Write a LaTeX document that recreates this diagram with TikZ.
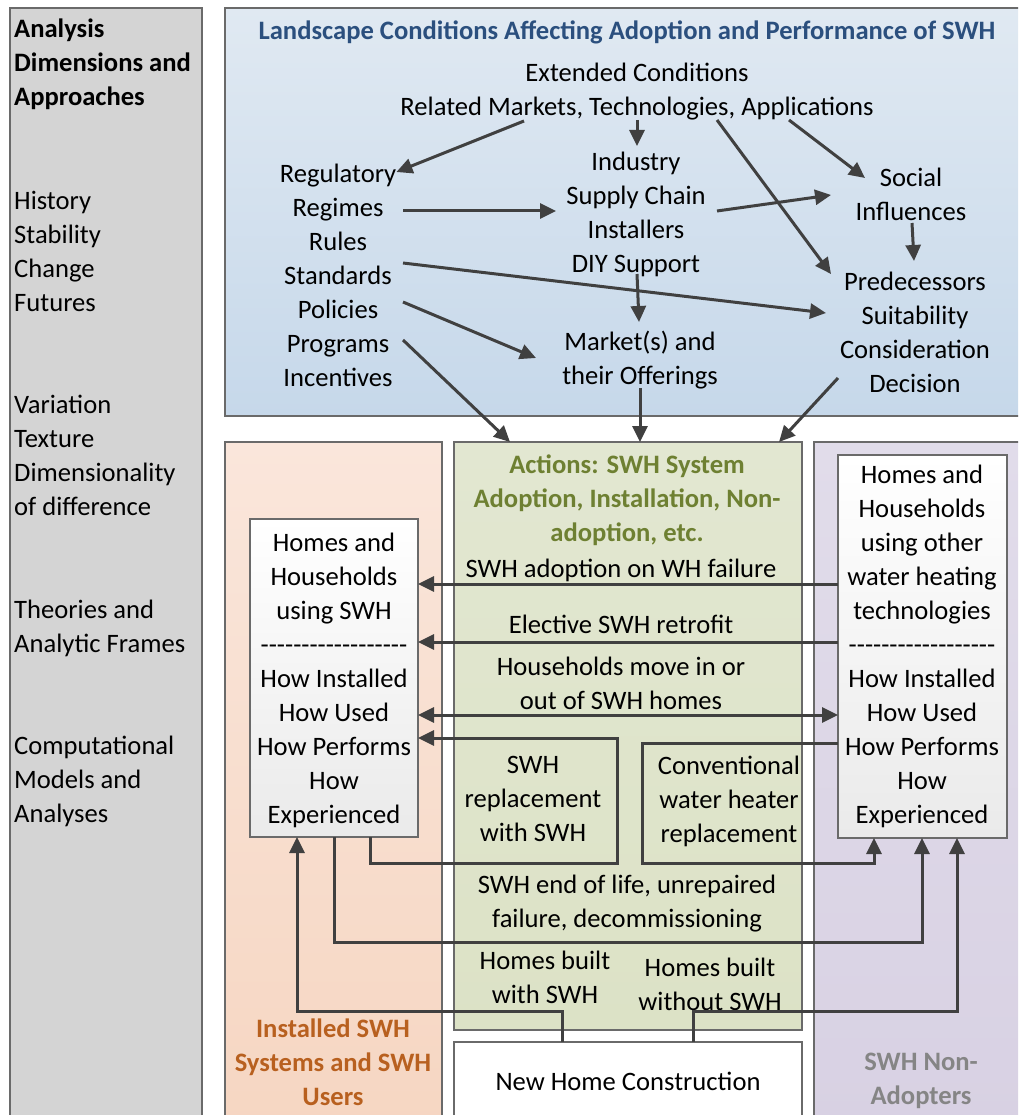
\documentclass[tikz,border=0pt]{standalone}
\usepackage{fontspec}
\setmainfont{Carlito}
\usetikzlibrary{arrows.meta,calc}
\definecolor{graybg}{HTML}{D4D4D4}
\definecolor{bordergray}{HTML}{6A6A6A}
\definecolor{arrowgray}{HTML}{404040}
\definecolor{blueA}{HTML}{E0E9F2}
\definecolor{blueB}{HTML}{C6D8EA}
\definecolor{orA}{HTML}{FAE6DB}
\definecolor{orB}{HTML}{F6D6C2}
\definecolor{grA}{HTML}{E2E7D1}
\definecolor{grB}{HTML}{DCE2C6}
\definecolor{puA}{HTML}{E1DCEA}
\definecolor{puB}{HTML}{D8D1E3}
\definecolor{whB}{HTML}{EAEAEA}
\definecolor{titleblue}{HTML}{2B4F7E}
\definecolor{titlegreen}{HTML}{6E8032}
\definecolor{titleorange}{HTML}{B8601F}
\definecolor{titlegray}{HTML}{858585}
\newcommand\dashrow{-{}-{}-{}-{}-{}-{}-{}-{}-{}-{}-{}-{}-{}-{}-{}-{}-{}-}
\begin{document}
\begin{tikzpicture}[x=1pt,y=-1pt,
  txt/.style={font=\fontsize{26.6}{34}\selectfont, align=center, inner sep=0pt, yshift=-4pt,
    execute at begin node=\strut, execute at end node=\strut},
  bf/.style={font=\fontsize{26.6}{34}\selectfont\bfseries},
  panel/.style={draw=bordergray, line width=1.2pt, inner sep=0pt, outer sep=0pt, anchor=north west},
  arr/.style={draw=arrowgray, line width=3pt, -{Triangle[length=16pt,width=15pt]}},
  darr/.style={draw=arrowgray, line width=3pt, {Triangle[length=16pt,width=15pt]}-{Triangle[length=16pt,width=15pt]}},
  ]
\useasboundingbox (0,0) rectangle (1018,1115);
\clip (0,0) rectangle (1018,1115);

% panels
\node[panel, fill=graybg, minimum width=192pt, minimum height=1125pt] (gray) at (10,8) {};
\node[panel, top color=blueA, bottom color=blueB, minimum width=815pt, minimum height=408pt] (land) at (225,8) {};
\node[panel, top color=orA, bottom color=orB, minimum width=217pt, minimum height=690pt] (orange) at (225,442) {};
\node[panel, top color=grA, bottom color=grB, minimum width=348pt, minimum height=588pt] (green) at (454,442) {};
\node[panel, top color=puA, bottom color=puB, minimum width=220pt, minimum height=690pt] (purple) at (814,442) {};
\node[panel, fill=white, minimum width=348pt, minimum height=90pt] (nhcbox) at (454,1042) {};
\node[panel, top color=white, bottom color=whB, minimum width=168pt, minimum height=318pt] (lbox) at (250,519) {};
\node[panel, top color=white, bottom color=whB, minimum width=169pt, minimum height=383pt] (rbox) at (838,455) {};

% left column
\node[txt, bf, anchor=west, align=left] (hdr) at (14,63) {Analysis\\Dimensions and\\Approaches};
\node[txt, anchor=west, align=left] (hist) at (14,252) {History\\Stability\\Change\\Futures};
\node[txt, anchor=west, align=left] (var) at (14,456) {Variation\\Texture\\Dimensionality\\of difference};
\node[txt, anchor=west, align=left] (theo) at (14,627) {Theories and\\Analytic Frames};
\node[txt, anchor=west, align=left] (comp) at (14,780) {Computational\\Models and\\Analyses};

% landscape box texts
\node[txt, bf, text=titleblue] (ltitle) at (627,29) {Landscape Conditions Affecting Adoption and Performance of SWH};
\node[txt] (ext) at (637,90) {Extended Conditions\\Related Markets, Technologies, Applications};
\node[txt] (reg) at (338,276) {Regulatory\\Regimes\\Rules\\Standards\\Policies\\Programs\\Incentives};
\node[txt] (ind) at (636,213) {Industry\\Supply Chain\\Installers\\DIY Support};
\node[txt] (soc) at (911,195) {Social\\Influences};
\node[txt] (pred) at (915,333) {Predecessors\\Suitability\\Consideration\\Decision};
\node[txt] (mkt) at (640,359) {Market(s) and\\their Offerings};

% green box texts
\node[txt, bf, text=titlegreen] (acttitle) at (627,499) {Actions: SWH System\\Adoption, Installation, Non-\\adoption, etc.};
\node[txt] (adopt) at (621,567) {SWH adoption on WH failure};
\node[txt] (elect) at (621,623) {Elective SWH retrofit};
\node[txt] (move) at (621,684) {Households move in or\\out of SWH homes};
\node[txt] (repl) at (533,800) {SWH\\replacement\\with SWH};
\node[txt] (conv) at (729,800) {Conventional\\water heater\\replacement};
\node[txt] (eol) at (627,902) {SWH end of life, unrepaired\\failure, decommissioning};
\node[txt] (bwith) at (545,978) {Homes built\\with SWH};
\node[txt] (bwithout) at (710,985) {Homes built\\without SWH};

% white boxes texts
\node[txt] (ltext) at (334,679) {Homes and\\Households\\using SWH\\\dashrow\\How Installed\\How Used\\How Performs\\How\\Experienced};
\node[txt] (rtext) at (922,645) {Homes and\\Households\\using other\\water heating\\technologies\\\dashrow\\How Installed\\How Used\\How Performs\\How\\Experienced};

% column labels
\node[txt, bf, text=titleorange] (olabel) at (333,1063) {Installed SWH\\Systems and SWH\\Users};
\node[txt, bf, text=titlegray] (plabel) at (921,1080) {SWH Non-\\Adopters};
\node[txt] (nhc) at (628,1080) {New Home Construction};

% landscape arrows
\draw[arr] (524,121) -- (reg.north east |- 0,172);
\draw[arr] (637,120) -- (637,146);
\draw[arr] (717,120) -- (831,274);
\draw[arr] (789,120) -- (865,178);
\draw[arr] (403,211) -- (556,211);
\draw[arr] (717,211) -- (831,195);
\draw[arr] (912,223) -- (914,261);
\draw[arr] (403,263) -- (826,313);
\draw[arr] (637,274) -- (639,322);
\draw[arr] (403,302) -- (536,358);
\draw[arr] (403,340) -- (green.north -| 510,0);
\draw[arr] (640,388) -- (green.north -| 640,0);
\draw[arr] (838,378) -- (green.north -| 779,0);

% transition arrows
\draw[arr] (rbox.west |- 0,584) -- (lbox.east |- 0,584);
\draw[arr] (rbox.west |- 0,642) -- (lbox.east |- 0,642);
\draw[darr] (lbox.east |- 0,715) -- (rbox.west |- 0,715);
\draw[arr] (lbox.south -| 370,0) -- (370,863) -- (617,863) -- (617,738) -- (lbox.east |- 0,738);
\draw[arr] (rbox.west |- 0,743) -- (642,743) -- (642,863) -- (874,863) -- (rbox.south -| 874,0);
\draw[arr] (lbox.south -| 334,0) -- (334,942) -- (922,942) -- (rbox.south -| 922,0);
\draw[arr] (nhcbox.north -| 562,0) -- (562,1011) -- (297,1011) -- (lbox.south -| 297,0);
\draw[arr] (nhcbox.north -| 693,0) -- (693,1011) -- (957,1011) -- (rbox.south -| 957,0);
\end{tikzpicture}
\end{document}
